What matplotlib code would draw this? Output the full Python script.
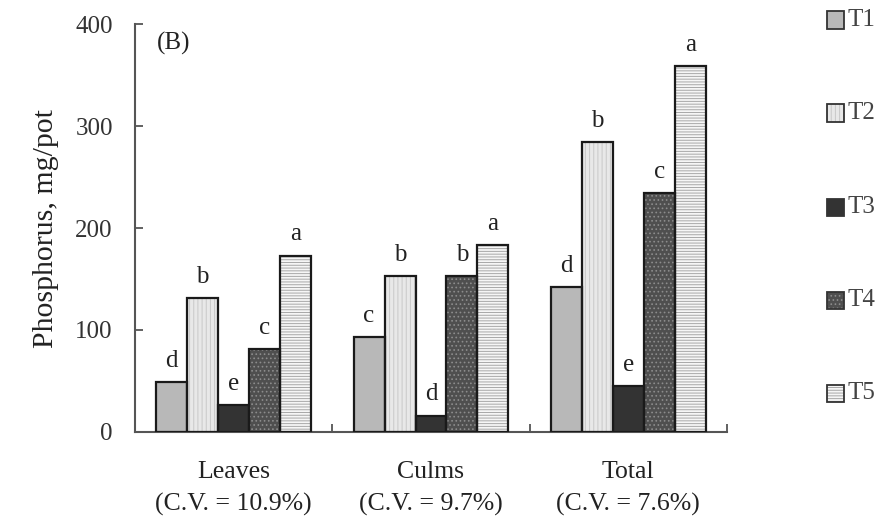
import matplotlib
matplotlib.use("Agg")
import matplotlib.pyplot as plt
from matplotlib.patches import Rectangle
import numpy as np

plt.rcParams['font.family'] = ['Liberation Serif', 'DejaVu Serif']
plt.rcParams['hatch.linewidth'] = 0.7

categories = ["Leaves\n(C.V. = 10.9%)", "Culms\n(C.V. = 9.7%)", "Total\n(C.V. = 7.6%)"]
series = ["T1", "T2", "T3", "T4", "T5"]
values = {
    "T1": [49, 93, 142],
    "T2": [131, 153, 284],
    "T3": [26, 16, 45],
    "T4": [81, 153, 234],
    "T5": [173, 183, 359],
}
letters = {
    "T1": ["d", "c", "d"],
    "T2": ["b", "b", "b"],
    "T3": ["e", "d", "e"],
    "T4": ["c", "b", "c"],
    "T5": ["a", "a", "a"],
}
yticks = [0, 100, 200, 300, 400]

styles = {
    "T1": dict(face="#b8b8b8", hatch=None, hc="#b8b8b8"),
    "T2": dict(face="#e8e8e8", hatch="||||", hc="#c8c8c8"),
    "T3": dict(face="#333333", hatch=None, hc="#333333"),
    "T4": dict(face="#4f4f4f", hatch="....", hc="#8c8c8c"),
    "T5": dict(face="#f6f6f6", hatch="------", hc="#a8a8a8"),
}

fig = plt.figure(figsize=(8.81, 5.21), dpi=100)
ax = fig.add_axes([135/881, 1-432/521, (727-135)/881, (432-24)/521])

x = np.arange(len(categories))
w = 0.157
n = len(series)
for i, s in enumerate(series):
    st = styles[s]
    pos = x + (i - (n-1)/2) * w
    ax.bar(pos, values[s], w, color=st["face"], edgecolor=st["hc"],
           hatch=st["hatch"], linewidth=0, zorder=2)
    ax.bar(pos, values[s], w, fill=False, edgecolor="#1a1a1a", linewidth=1.6, zorder=3)
    for xp, v, lt in zip(pos, values[s], letters[s]):
        ax.annotate(lt, (xp, v), xytext=(0, 11), textcoords="offset points",
                    ha="center", va="baseline", fontsize=18, color="#222222")

ax.set_xlim(-0.5, 2.5)
ax.set_ylim(0, 400)
ax.set_yticks(yticks)
ax.set_yticklabels([str(t) for t in yticks], fontsize=18, color="#333333")
ax.tick_params(axis="y", direction="in", length=6, width=1.3, color="#555555", pad=16)
ax.set_xticks([0.5, 1.5, 2.5])
ax.set_xticklabels([])
ax.tick_params(axis="x", which="major", direction="in", length=6, width=1.3, color="#555555")
ax.set_xticks(x, minor=True)
ax.set_xticklabels(categories, minor=True, fontsize=18.5, color="#222222", linespacing=1.55)
ax.tick_params(axis="x", which="minor", length=0, pad=21)

for side in ["top", "right"]:
    ax.spines[side].set_visible(False)
for side in ["left", "bottom"]:
    ax.spines[side].set_color("#555555")
    ax.spines[side].set_linewidth(1.5)

ax.set_ylabel("Phosphorus, mg/pot", fontsize=21.5, color="#222222", labelpad=12)
ax.text(157/881, 1-43/521, "(B)", transform=fig.transFigure, fontsize=18,
        va="center", ha="left", color="#222222")

# legend
ys = [20, 113, 207, 300, 393]
for s, yc in zip(series, ys):
    st = styles[s]
    r = Rectangle((827/881, 1-(yc+8.5)/521), 17/881, 17/521, transform=fig.transFigure,
                  facecolor=st["face"], edgecolor=st["hc"], hatch=st["hatch"], linewidth=0)
    fig.patches.append(r)
    r2 = Rectangle((827/881, 1-(yc+8.5)/521), 17/881, 17/521, transform=fig.transFigure,
                   fill=False, edgecolor="#333333", linewidth=1.3)
    fig.patches.append(r2)
    fig.text(848/881, 1-yc/521, s, fontsize=18, va="center", ha="left", color="#444444")

fig.savefig("out.png", dpi=100)
